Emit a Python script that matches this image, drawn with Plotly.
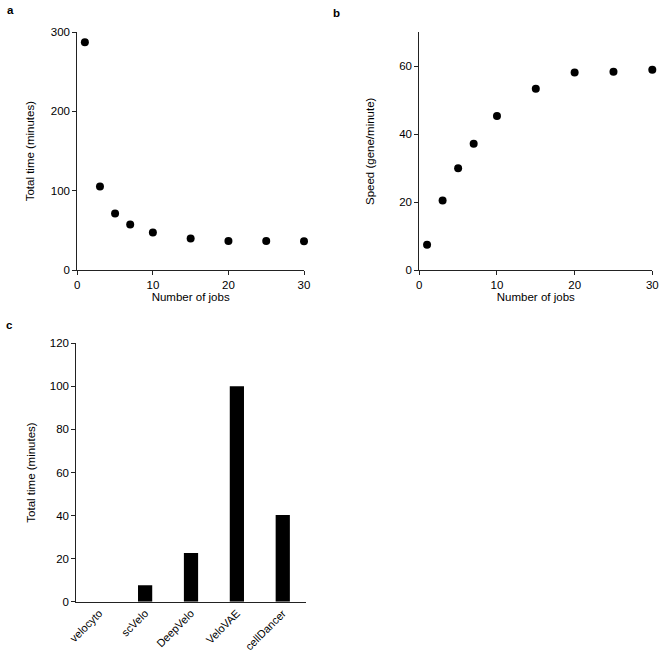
import plotly.graph_objects as go

# Data
jobs = [1, 3, 5, 7, 10, 15, 20, 25, 30]
total_time = [287, 105.5, 71.5, 57.6, 47.5, 40, 37, 37, 36.5]
speed = [7.5, 20.5, 30, 37.2, 45.4, 53.4, 58.2, 58.4, 59]
methods = ["velocyto", "scVelo", "DeepVelo", "VeloVAE", "cellDancer"]
method_time = [0, 7.6, 22.6, 100, 40.3]

W, H = 661, 653
FONT = "Liberation Sans, Arial, Helvetica, sans-serif"
FS = 11.5

def fx(p):
    return p / W

def fy(p):
    return 1 - p / H

fig = go.Figure()
fig.add_trace(go.Scatter(x=jobs, y=total_time, mode="markers",
                         marker=dict(color="black", size=8), cliponaxis=False,
                         xaxis="x", yaxis="y", showlegend=False))
fig.add_trace(go.Scatter(x=jobs, y=speed, mode="markers",
                         marker=dict(color="black", size=8), cliponaxis=False,
                         xaxis="x2", yaxis="y2", showlegend=False))
fig.add_trace(go.Bar(x=methods, y=method_time, marker=dict(color="black", line=dict(width=0)),
                     width=0.31, xaxis="x3", yaxis="y3", showlegend=False))

axis_common = dict(showline=True, linecolor="#222", linewidth=1, showgrid=False,
                   zeroline=False, ticks="outside", ticklen=4, tickcolor="#222",
                   automargin=False,
                   tickfont=dict(size=FS, color="black", family=FONT),
                   title_font=dict(size=FS, color="black", family=FONT))

fig.update_layout(
    width=W, height=H, margin=dict(l=0, r=0, t=0, b=0),
    plot_bgcolor="white", paper_bgcolor="white",
    font=dict(family=FONT, color="black", size=FS),
    xaxis=dict(domain=[fx(77.3), fx(304)], range=[0, 30], tickvals=[0, 10, 20, 30],
               anchor="y", title=dict(text="Number of jobs", standoff=2), **axis_common),
    yaxis=dict(domain=[fy(270.3), fy(32)], range=[0, 300], tickvals=[0, 100, 200, 300],
               anchor="x", title=dict(text="Total time (minutes)", standoff=13), **axis_common),
    xaxis2=dict(domain=[fx(419.3), fx(652.3)], range=[0, 30], tickvals=[0, 10, 20, 30],
                anchor="y2", title=dict(text="Number of jobs", standoff=2), **axis_common),
    yaxis2=dict(domain=[fy(270.3), fy(32.3)], range=[0, 70], tickvals=[0, 20, 40, 60],
                anchor="x2", title=dict(text="Speed (gene/minute)", standoff=22), **axis_common),
    xaxis3=dict(domain=[fx(76.3), fx(305.7)], range=[-0.5, 4.5], tickangle=-45,
                anchor="y3", showline=True, linecolor="#222", linewidth=1, showgrid=False,
                zeroline=False, ticks="", automargin=False,
                tickfont=dict(size=11, color="black", family=FONT)),
    yaxis3=dict(domain=[fy(601.7), fy(343.3)], range=[0, 120], tickvals=[0, 20, 40, 60, 80, 100, 120],
                anchor="x3", title=dict(text="Total time (minutes)", standoff=11), **axis_common),
    bargap=0.69,
)

for txt, x, y in [("a", 10, 10), ("b", 336, 13), ("c", 9, 325)]:
    fig.add_annotation(text="<b>%s</b>" % txt, x=fx(x), y=fy(y), xref="paper", yref="paper",
                       showarrow=False, xanchor="center", yanchor="middle",
                       font=dict(size=FS, color="black", family=FONT))

fig.write_html("out.html", config={"displayModeBar": False},
               post_script="document.body.style.margin='0';document.body.style.overflow='hidden';")
